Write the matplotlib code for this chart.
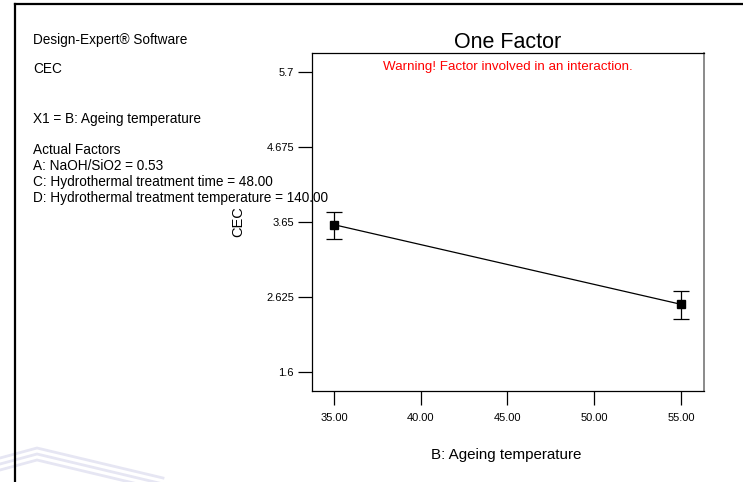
import matplotlib
matplotlib.use("Agg")
import matplotlib.pyplot as plt
from matplotlib.lines import Line2D

plt.rcParams['font.family'] = ['Liberation Sans', 'DejaVu Sans']

# data
ageing_temp = [35.0, 55.0]
cec = [3.613, 2.525]
cec_hi = [3.79, 2.703]
cec_lo = [3.417, 2.327]
yticks = [1.6, 2.625, 3.65, 4.675, 5.7]
ytick_labels = ['1.6', '2.625', '3.65', '4.675', '5.7']
xticks = [35, 40, 45, 50, 55]
xtick_labels = ['35.00', '40.00', '45.00', '50.00', '55.00']
info_lines = [
    ('Design-Expert® Software', 40),
    ('CEC', 69),
    ('X1 = B: Ageing temperature', 119),
    ('Actual Factors', 150),
    ('A: NaOH/SiO2 = 0.53', 166),
    ('C: Hydrothermal treatment time = 48.00', 182),
    ('D: Hydrothermal treatment temperature = 140.00', 198),
]

W, H = 743, 482
fig = plt.figure(figsize=(W / 100, H / 100), dpi=100)
fig.patch.set_facecolor('white')

# frame at top-left of picture
fig.add_artist(Line2D([14.5 / W, 14.5 / W], [0, 1 - 4 / H], color='black', lw=1.6))
fig.add_artist(Line2D([14.5 / W, 1], [1 - 4 / H, 1 - 4 / H], color='black', lw=1.6))

# faint watermark stripes, bottom left
for k in range(3):
    off = k * 6
    fig.add_artist(Line2D([0, 37 / W, 163 / W],
                          [1 - (458 + off) / H, 1 - (448 + off) / H, 1 - (478 + off) / H],
                          color='#e6e6f3', lw=2.0, zorder=0))

ax = fig.add_axes([312 / W, 1 - 391 / H, (704 - 312) / W, (391 - 53) / H])
ax.plot(ageing_temp, cec, color='black', lw=0.9, zorder=2)
yerr = [[c - l for c, l in zip(cec, cec_lo)], [h - c for c, h in zip(cec, cec_hi)]]
ax.errorbar(ageing_temp, cec, yerr=yerr, fmt='s', color='black', ms=6,
            ecolor='black', elinewidth=0.9, capsize=6, capthick=0.9, zorder=3)

ax.set_xlim(33.73, 56.33)
ax.set_ylim(1.34, 5.96)
ax.set_xticks(xticks)
ax.set_xticklabels(xtick_labels)
ax.set_yticks(yticks)
ax.set_yticklabels(ytick_labels)
ax.tick_params(direction='out', length=10, width=0.9, labelsize=8, color='black', pad=3)
ax.tick_params(axis='x', pad=6)
for s in ['left', 'bottom', 'top']:
    ax.spines[s].set_color('black')
    ax.spines[s].set_linewidth(0.9)
ax.spines['right'].set_color('#777777')
ax.spines['right'].set_linewidth(1.2)

ax.set_title('One Factor', fontsize=15.5, pad=1)
ax.text(0.5, 0.975, 'Warning! Factor involved in an interaction.', color='red',
        fontsize=9.6, ha='center', va='top', transform=ax.transAxes)
ax.set_ylabel('CEC', fontsize=10.5)
ax.yaxis.set_label_coords(-0.171, 0.5)
fig.text(506 / W, 1 - 455 / H, 'B: Ageing temperature', fontsize=10.9, ha='center', va='center')

for txt, ypix in info_lines:
    fig.text(33 / W, 1 - ypix / H, txt, fontsize=9.8, ha='left', va='center')

fig.savefig('out.png', dpi=100)
